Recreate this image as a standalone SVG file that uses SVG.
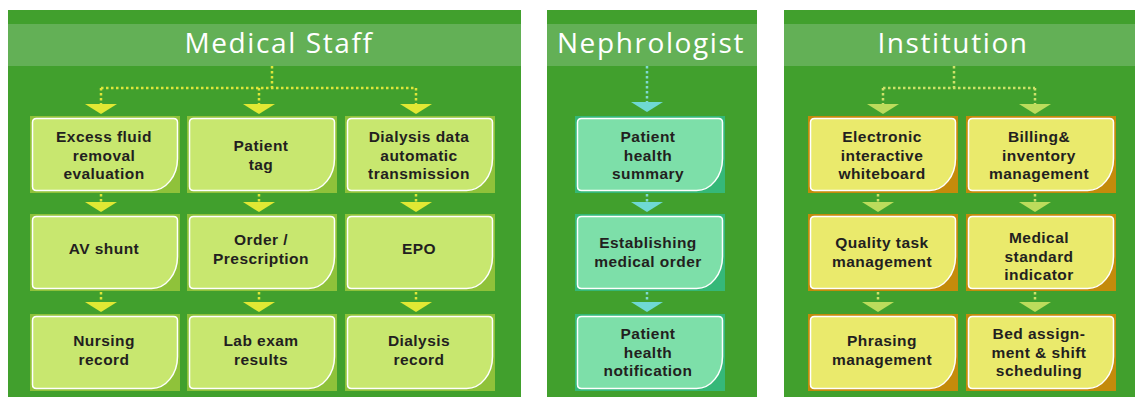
<svg xmlns="http://www.w3.org/2000/svg" width="1135" height="397" viewBox="0 0 1135 397">
<style>
.panel{fill:#41a02d}
.band{fill:#63b056}
.head{font-family:"Open Sans","Noto Sans",sans-serif;font-size:28px;fill:#ffffff;text-anchor:middle;letter-spacing:1.6px}
.lbl{font-family:"Liberation Sans",Arial,sans-serif;font-weight:700;font-size:15.5px;fill:#231f20;text-anchor:middle;letter-spacing:0.45px}
.f1{fill:#8fc23a}.i1{fill:#c8e76f}
.f2{fill:#35b878}.i2{fill:#7ddfa9}
.f3{fill:#c48b0b}.i3{fill:#eaea6c}
.d1{stroke:#dfe63a;stroke-width:2.5;stroke-dasharray:2.5 2.5;fill:none}
.d2{stroke:#7fd9d2;stroke-width:2.5;stroke-dasharray:2.5 2.5;fill:none}
.d3{stroke:#cfe16a;stroke-width:2.5;stroke-dasharray:2.5 2.5;fill:none}
.t1{fill:#e1e834}.t2{fill:#6fd9d3}.t3{fill:#bcdc5c}
</style>
<defs>
<path id="inner" d="M6.5,2.5 H143.5 Q147.5,2.5 147.5,6.5 V42.5 A26,32 0 0 1 121.5,74.5 H6.5 Q2.5,74.5 2.5,70.5 V6.5 Q2.5,2.5 6.5,2.5 Z" stroke="#ffffff" stroke-width="1.5"/>
<path id="tri" d="M-16,0 H16 L0,10 Z"/>
</defs>

<g id="panels">
<rect class="panel" x="8" y="10" width="513" height="387"/>
<rect class="band" x="8" y="24" width="513" height="42"/>
<text class="head" x="279" y="53">Medical Staff</text>
<rect class="panel" x="547" y="10" width="210" height="387"/>
<rect class="band" x="547" y="24" width="210" height="42"/>
<text class="head" x="651" y="53">Nephrologist</text>
<rect class="panel" x="784" y="10" width="351" height="387"/>
<rect class="band" x="784" y="24" width="351" height="42"/>
<text class="head" x="953" y="53">Institution</text>
</g>

<g id="connectors">
<path class="d1" d="M272,66 V88 M101,88 H416 M101,88 V104 M259,88 V104 M416,88 V104 M101,194 V202 M259,194 V202 M416,194 V202 M101,292 V302 M259,292 V302 M416,292 V302"/>
<use href="#tri" class="t1" x="101" y="104"/><use href="#tri" class="t1" x="259" y="104"/><use href="#tri" class="t1" x="416" y="104"/>
<use href="#tri" class="t1" x="101" y="202"/><use href="#tri" class="t1" x="259" y="202"/><use href="#tri" class="t1" x="416" y="202"/>
<use href="#tri" class="t1" x="101" y="302"/><use href="#tri" class="t1" x="259" y="302"/><use href="#tri" class="t1" x="416" y="302"/>
<path class="d2" d="M647,66 V102 M647,194 V202 M647,292 V302"/>
<use href="#tri" class="t2" x="647" y="102"/><use href="#tri" class="t2" x="647" y="202"/><use href="#tri" class="t2" x="647" y="302"/>
<path class="d3" d="M954,66 V88 M883,88 H1035 M883,88 V104 M1035,88 V104 M878,194 V202 M1035,194 V202 M878,292 V302 M1035,292 V302"/>
<use href="#tri" class="t3" x="883" y="104"/><use href="#tri" class="t3" x="1035" y="104"/>
<use href="#tri" class="t3" x="878" y="202"/><use href="#tri" class="t3" x="1035" y="202"/>
<use href="#tri" class="t3" x="878" y="302"/><use href="#tri" class="t3" x="1035" y="302"/>
</g>

<g id="n-excess"><rect class="f1" x="30" y="116" width="150" height="77"/><use href="#inner" class="i1" x="30" y="116"/>
<text class="lbl"><tspan x="104" y="142">Excess fluid</tspan><tspan x="104" y="160.5">removal</tspan><tspan x="104" y="179">evaluation</tspan></text></g>
<g id="n-tag"><rect class="f1" x="187" y="116" width="150" height="77"/><use href="#inner" class="i1" x="187" y="116"/>
<text class="lbl"><tspan x="261" y="151">Patient</tspan><tspan x="261" y="170">tag</tspan></text></g>
<g id="n-dialysisdata"><rect class="f1" x="345" y="116" width="150" height="77"/><use href="#inner" class="i1" x="345" y="116"/>
<text class="lbl"><tspan x="419" y="142">Dialysis data</tspan><tspan x="419" y="160.5">automatic</tspan><tspan x="419" y="179">transmission</tspan></text></g>

<g id="n-av"><rect class="f1" x="30" y="214" width="150" height="77"/><use href="#inner" class="i1" x="30" y="214"/>
<text class="lbl" x="104" y="254">AV shunt</text></g>
<g id="n-order"><rect class="f1" x="187" y="214" width="150" height="77"/><use href="#inner" class="i1" x="187" y="214"/>
<text class="lbl"><tspan x="261" y="245">Order /</tspan><tspan x="261" y="264">Prescription</tspan></text></g>
<g id="n-epo"><rect class="f1" x="345" y="214" width="150" height="77"/><use href="#inner" class="i1" x="345" y="214"/>
<text class="lbl" x="419" y="254">EPO</text></g>

<g id="n-nursing"><rect class="f1" x="30" y="314" width="150" height="77"/><use href="#inner" class="i1" x="30" y="314"/>
<text class="lbl"><tspan x="104" y="346">Nursing</tspan><tspan x="104" y="365">record</tspan></text></g>
<g id="n-lab"><rect class="f1" x="187" y="314" width="150" height="77"/><use href="#inner" class="i1" x="187" y="314"/>
<text class="lbl"><tspan x="261" y="346">Lab exam</tspan><tspan x="261" y="365">results</tspan></text></g>
<g id="n-dialysisrecord"><rect class="f1" x="345" y="314" width="150" height="77"/><use href="#inner" class="i1" x="345" y="314"/>
<text class="lbl"><tspan x="419" y="346">Dialysis</tspan><tspan x="419" y="365">record</tspan></text></g>

<g id="n-summary"><rect class="f2" x="575" y="116" width="150" height="77"/><use href="#inner" class="i2" x="575" y="116"/>
<text class="lbl"><tspan x="648" y="142">Patient</tspan><tspan x="648" y="160.5">health</tspan><tspan x="648" y="179">summary</tspan></text></g>
<g id="n-establishing"><rect class="f2" x="575" y="214" width="150" height="77"/><use href="#inner" class="i2" x="575" y="214"/>
<text class="lbl"><tspan x="648" y="248">Establishing</tspan><tspan x="648" y="267">medical order</tspan></text></g>
<g id="n-notification"><rect class="f2" x="575" y="314" width="150" height="77"/><use href="#inner" class="i2" x="575" y="314"/>
<text class="lbl"><tspan x="648" y="339">Patient</tspan><tspan x="648" y="357.5">health</tspan><tspan x="648" y="376">notification</tspan></text></g>

<g id="n-whiteboard"><rect class="f3" x="808" y="116" width="150" height="77"/><use href="#inner" class="i3" x="808" y="116"/>
<text class="lbl"><tspan x="882" y="142">Electronic</tspan><tspan x="882" y="160.5">interactive</tspan><tspan x="882" y="179">whiteboard</tspan></text></g>
<g id="n-billing"><rect class="f3" x="966" y="116" width="150" height="77"/><use href="#inner" class="i3" x="966" y="116"/>
<text class="lbl"><tspan x="1039" y="142">Billing&amp;</tspan><tspan x="1039" y="160.5">inventory</tspan><tspan x="1039" y="179">management</tspan></text></g>
<g id="n-quality"><rect class="f3" x="808" y="214" width="150" height="77"/><use href="#inner" class="i3" x="808" y="214"/>
<text class="lbl"><tspan x="882" y="248">Quality task</tspan><tspan x="882" y="267">management</tspan></text></g>
<g id="n-standard"><rect class="f3" x="966" y="214" width="150" height="77"/><use href="#inner" class="i3" x="966" y="214"/>
<text class="lbl"><tspan x="1039" y="243">Medical</tspan><tspan x="1039" y="261.5">standard</tspan><tspan x="1039" y="280">indicator</tspan></text></g>
<g id="n-phrasing"><rect class="f3" x="808" y="314" width="150" height="77"/><use href="#inner" class="i3" x="808" y="314"/>
<text class="lbl"><tspan x="882" y="346">Phrasing</tspan><tspan x="882" y="365">management</tspan></text></g>
<g id="n-bed"><rect class="f3" x="966" y="314" width="150" height="77"/><use href="#inner" class="i3" x="966" y="314"/>
<text class="lbl"><tspan x="1039" y="339">Bed assign-</tspan><tspan x="1039" y="357.5">ment &amp; shift</tspan><tspan x="1039" y="376">scheduling</tspan></text></g>
</svg>
